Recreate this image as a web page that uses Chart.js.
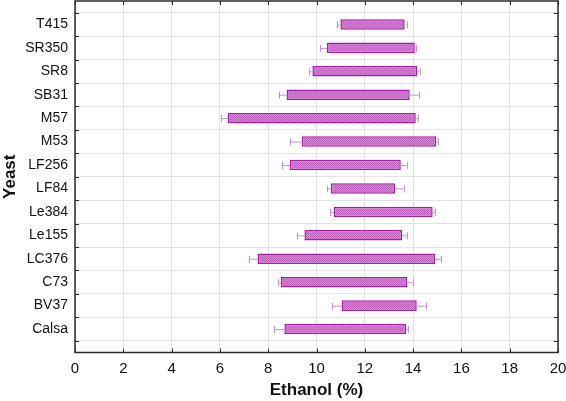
<!DOCTYPE html>
<html>
<head>
<meta charset="utf-8">
<script src="https://cdn.jsdelivr.net/npm/chart.js@4"></script>
<style>
  html, body { margin: 0; padding: 0; background: #fff; }
  #wrap { width: 566px; height: 401px; }
</style>
</head>
<body>
<div id="wrap"><canvas id="chart"></canvas></div>
<script>
// Yeast strains, top to bottom
const strains = ['T415', 'SR350', 'SR8', 'SB31', 'M57', 'M53', 'LF256', 'LF84',
                 'Le384', 'Le155', 'LC376', 'C73', 'BV37', 'Calsa'];
// ethanol range (%) - bar start / end
const rangeStart = [10.99, 10.43, 9.83, 8.76, 6.32, 9.39, 8.90, 10.59, 10.72, 9.50, 7.56, 8.53, 11.04, 8.67];
const rangeEnd   = [13.65, 14.07, 14.17, 13.86, 14.11, 14.95, 13.49, 13.25, 14.81, 13.54, 14.91, 13.76, 14.15, 13.71];
// error whisker ends
const whiskerLow  = [10.86, 10.13, 9.68, 8.45, 6.03, 8.92, 8.59, 10.43, 10.56, 9.18, 7.19, 8.42, 10.63, 8.24];
const whiskerHigh = [13.73, 14.10, 14.27, 14.26, 14.20, 15.04, 13.73, 13.61, 14.91, 13.76, 15.17, 13.98, 14.52, 13.80];
const xTicks = [0, 2, 4, 6, 8, 10, 12, 14, 16, 18, 20];

// blank slots above and below so the axis runs half a row past the grid
const labels = [''].concat(strains, ['']);
const barData = [null].concat(strains.map((s, i) => [rangeStart[i], rangeEnd[i]]), [null]);

function hatch() {
    const c = document.createElement('canvas');
    c.width = 2; c.height = 2;
    const g = c.getContext('2d');
    g.fillStyle = '#d688d6';
    g.fillRect(0, 0, 2, 2);
    g.fillStyle = '#bd5fbd';
    g.fillRect(0, 0, 1, 1);
    g.fillRect(1, 1, 1, 1);
    return g.createPattern(c, 'repeat');
}

const whiskers = {
    id: 'whiskers',
    afterDatasetsDraw(chart) {
        const ctx = chart.ctx, xs = chart.scales.x, ys = chart.scales.y;
        ctx.save();
        ctx.strokeStyle = '#c595c5';
        ctx.lineWidth = 1;
        strains.forEach((s, i) => {
            const y = ys.getPixelForValue(i + 1);
            [[rangeStart[i], whiskerLow[i]], [rangeEnd[i], whiskerHigh[i]]].forEach(([a, b]) => {
                const xa = xs.getPixelForValue(a), xb = xs.getPixelForValue(b);
                ctx.beginPath();
                ctx.moveTo(xa, y + 0.5); ctx.lineTo(xb, y + 0.5);
                ctx.moveTo(Math.round(xb) + 0.5, y - 3); ctx.lineTo(Math.round(xb) + 0.5, y + 4);
                ctx.stroke();
            });
        });
        ctx.restore();
    }
};

const frame = {
    id: 'frame',
    afterDraw(chart) {
        const ctx = chart.ctx, a = chart.chartArea, xs = chart.scales.x, ys = chart.scales.y;
        ctx.save();
        ctx.strokeStyle = '#2a2a2a';
        ctx.lineWidth = 1.5;
        ctx.strokeRect(a.left, a.top, a.right - a.left, a.bottom - a.top);
        ctx.lineWidth = 1;
        ctx.beginPath();
        xTicks.forEach(v => {
            const x = Math.round(xs.getPixelForValue(v)) + 0.5;
            ctx.moveTo(x, a.bottom); ctx.lineTo(x, a.bottom - 4);
            ctx.moveTo(x, a.top); ctx.lineTo(x, a.top + 4);
        });
        for (let i = 0; i <= strains.length; i++) {
            const y = Math.round((ys.getPixelForValue(i) + ys.getPixelForValue(i + 1)) / 2) + 0.5;
            ctx.moveTo(a.left, y); ctx.lineTo(a.left + 4, y);
            ctx.moveTo(a.right, y); ctx.lineTo(a.right - 4, y);
        }
        ctx.stroke();
        ctx.restore();
    }
};

new Chart(document.getElementById('chart'), {
    type: 'bar',
    data: {
        labels: labels,
        datasets: [{
            data: barData,
            backgroundColor: hatch(),
            borderColor: '#a020a0',
            borderWidth: 1.5,
            borderSkipped: false,
            barPercentage: 0.45,
            categoryPercentage: 1
        }]
    },
    options: {
        indexAxis: 'y',
        responsive: true,
        maintainAspectRatio: false,
        animation: false,
        layout: { padding: { top: 1, right: 8 } },
        plugins: { legend: { display: false }, tooltip: { enabled: false } },
        scales: {
            x: {
                type: 'linear',
                min: 0,
                max: 20,
                afterFit: s => { s.height = 48.5; s.paddingLeft = 0; s.paddingRight = 0; },
                afterBuildTicks: s => { s.ticks = xTicks.map(v => ({ value: v })); },
                grid: { color: '#e3e3e3', drawTicks: false },
                border: { display: false },
                ticks: { color: '#111', padding: 7, font: { family: 'Liberation Sans, Arial', size: 15 } },
                title: {
                    display: true,
                    text: 'Ethanol (%)',
                    color: '#111',
                    padding: { top: 0, bottom: 0 },
                    font: { family: 'Liberation Sans, Arial', size: 17, weight: 'bold' }
                }
            },
            y: {
                type: 'category',
                offset: false,
                afterFit: s => { s.width = 75; s.paddingTop = 0; s.paddingBottom = 0; },
                grid: { color: '#e3e3e3', offset: true, drawTicks: false },
                border: { display: false },
                ticks: { color: '#111', padding: 7, autoSkip: false, font: { family: 'Liberation Sans, Arial', size: 14 } },
                title: {
                    display: true,
                    text: 'Yeast',
                    color: '#111',
                    padding: { top: 0, bottom: 0 },
                    font: { family: 'Liberation Sans, Arial', size: 17, weight: 'bold' }
                }
            }
        }
    },
    plugins: [whiskers, frame]
});
</script>
</body>
</html>
